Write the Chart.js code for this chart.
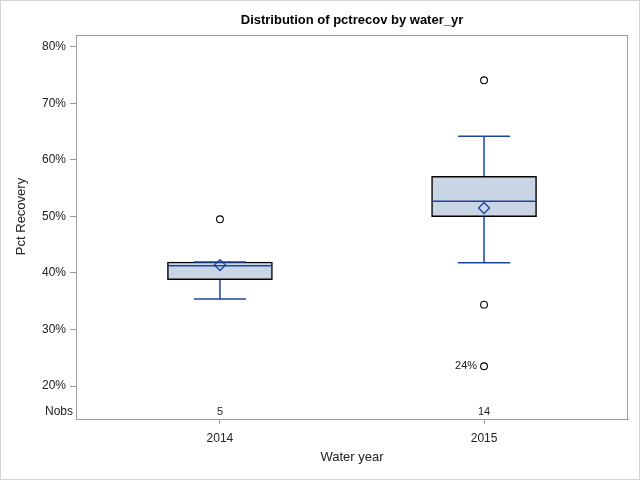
<!DOCTYPE html>
<html><head><meta charset="utf-8">
<script src="https://cdn.jsdelivr.net/npm/chart.js@4"></script>
<style>html,body{margin:0;padding:0;background:#fff}#wrap{width:640px;height:480px;position:relative}</style>
</head><body><div id="wrap"><canvas id="c" width="640" height="480"></canvas></div>
<script>
const categories = ['2014', '2015'];
const q1 = [38.8, 49.95];
const q3 = [41.95, 57.1];
const medians = [41.3, 52.7];
const means = [41.4, 51.5];
const whiskerLow = [35.4, 41.8];
const whiskerHigh = [41.95, 64.2];
const outliers = [[49.5], [74.1, 34.4, 23.5]];
const outlierLabels = [[null], [null, null, '24%']];
const nobs = [5, 14];
const yTicks = [20, 30, 40, 50, 60, 70, 80];

const FONT = "'Liberation Sans', Arial, sans-serif";
const BLUE = '#1a46a0';
const FILL = '#cad5e5';
const FRAME = '#9c9c9c';

const boxData = categories.map((c, i) => ({x: i, y: [q1[i], q3[i]]}));
const medianData = categories.map((c, i) => ({x: i, y: medians[i]}));
const meanData = categories.map((c, i) => ({x: i, y: means[i]}));
const capData = [];
categories.forEach((c, i) => { capData.push({x: i, y: whiskerLow[i]}); capData.push({x: i, y: whiskerHigh[i]}); });
const outlierData = [];
categories.forEach((c, i) => outliers[i].forEach((v, k) => outlierData.push({x: i, y: v, label: outlierLabels[i][k]})));
const stemSets = categories.map((c, i) => ({
  type: 'line',
  data: [{x: i, y: whiskerHigh[i]}, {x: i, y: q3[i]}, {x: i, y: null}, {x: i, y: q1[i]}, {x: i, y: whiskerLow[i]}],
  borderColor: BLUE, borderWidth: 1.5, pointRadius: 0, spanGaps: false, fill: false, order: 4
}));

const decor = {
  id: 'decor',
  afterDraw(chart) {
    const {ctx, chartArea: a, scales: {x, y}} = chart;
    ctx.save();
    ctx.strokeStyle = '#d4d4d4'; ctx.lineWidth = 1;
    ctx.strokeRect(0.5, 0.5, chart.width - 1, chart.height - 1);
    ctx.strokeStyle = FRAME;
    ctx.strokeRect(Math.round(a.left) + 0.5, Math.round(a.top) + 0.5, Math.round(a.right - a.left) - 1, Math.round(a.bottom - a.top));
    ctx.fillStyle = '#000';
    ctx.font = 'bold 13px ' + FONT;
    ctx.textAlign = 'center'; ctx.textBaseline = 'middle';
    ctx.fillText('Distribution of pctrecov by water_yr', (a.left + a.right) / 2, 20);
    ctx.save();
    ctx.translate(21, (a.top + a.bottom - 21) / 2);
    ctx.rotate(-Math.PI / 2);
    ctx.font = '13px ' + FONT;
    ctx.fillStyle = '#222';
    ctx.fillText('Pct Recovery', 0, 0);
    ctx.restore();
    ctx.font = '12px ' + FONT;
    ctx.fillStyle = '#222';
    ctx.textAlign = 'right';
    ctx.fillText('Nobs', a.left - 3, a.bottom - 7);
    ctx.font = '11px ' + FONT;
    ctx.textAlign = 'center';
    categories.forEach((c, i) => ctx.fillText(String(nobs[i]), x.getPixelForValue(i), a.bottom - 7));
    ctx.textAlign = 'right';
    outlierData.forEach(p => { if (p.label) ctx.fillText(p.label, x.getPixelForValue(p.x) - 7, y.getPixelForValue(p.y)); });
    ctx.restore();
  }
};

new Chart(document.getElementById('c'), {
  type: 'bar',
  data: {
    datasets: [
      {type: 'bar', data: boxData, backgroundColor: FILL, borderColor: '#000', borderWidth: 1.5, borderSkipped: false, barThickness: 105, order: 5},
      ...stemSets,
      {type: 'scatter', data: capData, pointStyle: 'line', pointRadius: 26, borderColor: BLUE, pointBorderWidth: 1.5, order: 3},
      {type: 'scatter', data: medianData, pointStyle: 'line', pointRadius: 52, borderColor: BLUE, pointBorderWidth: 1.5, order: 2},
      {type: 'scatter', data: meanData, pointStyle: 'rectRot', pointRadius: 5.5, borderColor: BLUE, backgroundColor: 'rgba(0,0,0,0)', pointBorderWidth: 1.3, order: 1},
      {type: 'scatter', data: outlierData, pointStyle: 'circle', pointRadius: 3.4, borderColor: '#000', backgroundColor: 'rgba(0,0,0,0)', pointBorderWidth: 1.1, order: 0}
    ]
  },
  options: {
    responsive: false, animation: false, events: [],
    layout: {autoPadding: false, padding: {top: 35, right: 12, left: 0, bottom: 0}},
    plugins: {legend: {display: false}, tooltip: {enabled: false}, title: {display: false}},
    scales: {
      x: {
        type: 'linear', min: -0.545, max: 1.545, offset: false,
        afterBuildTicks: s => { s.ticks = categories.map((c, i) => ({value: i})); },
        afterFit: s => { s.height = 61; },
        ticks: {callback: v => categories[v], font: {size: 12, family: FONT}, color: '#222', padding: 7, maxRotation: 0},
        grid: {drawOnChartArea: false, tickLength: 5, color: FRAME, offset: false},
        border: {display: true, color: FRAME},
        title: {display: true, text: 'Water year', font: {size: 13, family: FONT}, color: '#222', padding: {top: 4, bottom: 15}}
      },
      y: {
        type: 'linear', min: 14.16, max: 82.12,
        afterBuildTicks: s => { s.ticks = yTicks.map(v => ({value: v})); },
        afterFit: s => { s.width = 76; },
        ticks: {callback: v => v + '%', font: {size: 12, family: FONT}, color: '#222', padding: 4},
        grid: {drawOnChartArea: false, tickLength: 6, color: FRAME},
        border: {display: true, color: FRAME}
      }
    }
  },
  plugins: [decor]
});
</script></body></html>
